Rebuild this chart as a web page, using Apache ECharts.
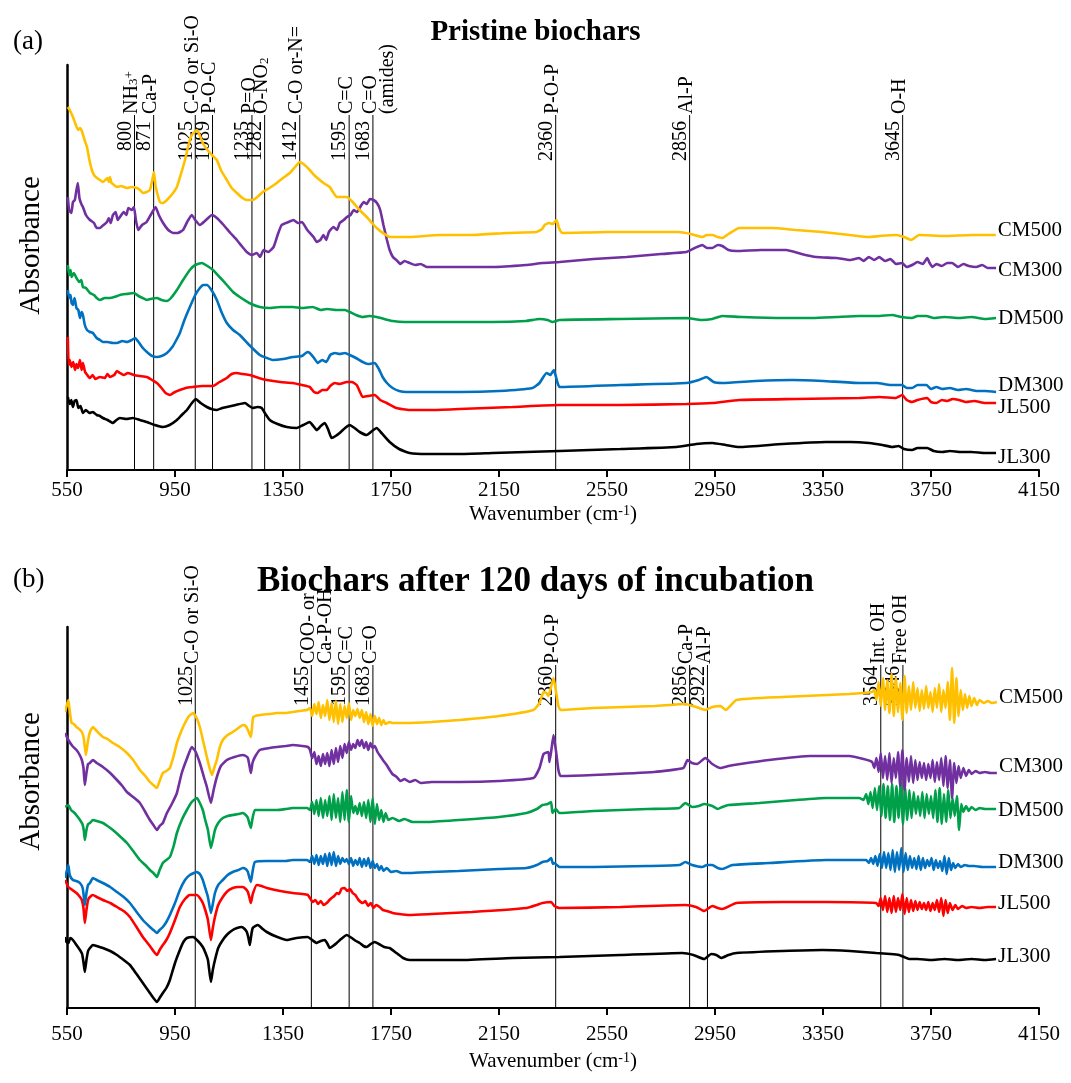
<!DOCTYPE html>
<html>
<head>
<meta charset="utf-8">
<title>FTIR spectra of biochars</title>
<script src="https://cdn.jsdelivr.net/npm/echarts@6/dist/echarts.min.js"></script>
<style>
  html, body { margin: 0; padding: 0; background: #ffffff; }
  #chart { width: 1071px; height: 1083px; }
</style>
</head>
<body>
<div id="chart"></div>
<script>
// ---------- shared settings ----------
const FONT = "'Liberation Serif', 'Times New Roman', serif";
const xMin = 550, xMax = 4150, xStep = 400;
const sampleNames = ['CM500', 'CM300', 'DM500', 'DM300', 'JL500', 'JL300'];
const sampleColors = ['#FFC000', '#7030A0', '#00A04A', '#0070C0', '#FF0000', '#000000'];

// ---------- (a) pristine biochars: [wavenumber, absorbance (offset)] ----------
const cm500A = [[553,3.63],[560,3.60],[572,3.53],[580,3.47],[591,3.40],[598,3.42],[605,3.39],[615,3.30],[624,3.23],[633,3.10],[642,3.00],[650,2.95],[661,2.92],[672,2.90],[683,2.88],[692,2.90],[700,2.92],[705,2.88],[709,2.93],[715,2.87],[720,2.86],[735,2.83],[750,2.84],[772,2.82],[790,2.83],[809,2.82],[820,2.80],[831,2.77],[845,2.78],[857,2.80],[866,2.90],[872,2.98],[878,2.84],[883,2.78],[894,2.68],[905,2.67],[920,2.70],[940,2.76],[957,2.83],[972,2.96],[987,3.10],[1000,3.25],[1012,3.35],[1031,3.40],[1040,3.36],[1053,3.27],[1070,3.20],[1087,3.15],[1105,3.10],[1120,3.00],[1142,2.90],[1160,2.82],[1179,2.77],[1200,2.72],[1216,2.70],[1238,2.70],[1255,2.73],[1275,2.78],[1300,2.82],[1327,2.87],[1350,2.92],[1375,2.97],[1395,3.03],[1412,3.08],[1430,3.05],[1449,3.00],[1465,2.95],[1486,2.90],[1505,2.86],[1523,2.83],[1535,2.78],[1549,2.73],[1570,2.73],[1586,2.73],[1608,2.68],[1630,2.61],[1660,2.53],[1680,2.47],[1697,2.42],[1720,2.37],[1745,2.33],[1780,2.33],[1819,2.33],[1930,2.35],[2050,2.35],[2178,2.37],[2289,2.38],[2310,2.41],[2319,2.45],[2335,2.47],[2349,2.46],[2363,2.50],[2372,2.42],[2385,2.37],[2548,2.38],[2700,2.38],[2816,2.38],[2860,2.36],[2903,2.33],[2920,2.35],[2940,2.35],[2960,2.33],[2977,2.32],[3000,2.36],[3040,2.42],[3162,2.42],[3250,2.40],[3347,2.38],[3450,2.35],[3521,2.33],[3560,2.34],[3621,2.35],[3650,2.33],[3677,2.30],[3706,2.35],[3800,2.34],[3900,2.35],[3990,2.35]];

const cm300A = [[553,2.73],[558,2.60],[566,2.57],[572,2.68],[579,2.70],[585,2.80],[590,2.87],[596,2.72],[603,2.66],[609,2.63],[620,2.55],[635,2.50],[650,2.47],[660,2.42],[672,2.42],[685,2.45],[698,2.48],[705,2.52],[712,2.47],[720,2.55],[730,2.58],[738,2.50],[746,2.53],[760,2.58],[770,2.55],[777,2.62],[790,2.60],[798,2.63],[805,2.50],[814,2.40],[828,2.45],[845,2.48],[860,2.55],[878,2.63],[890,2.55],[906,2.47],[925,2.40],[943,2.37],[960,2.37],[980,2.40],[995,2.48],[1012,2.55],[1025,2.50],[1042,2.45],[1065,2.50],[1087,2.55],[1105,2.52],[1130,2.45],[1155,2.37],[1179,2.30],[1200,2.23],[1216,2.18],[1235,2.15],[1253,2.17],[1265,2.13],[1278,2.20],[1295,2.18],[1315,2.23],[1330,2.35],[1345,2.45],[1370,2.48],[1389,2.50],[1405,2.47],[1420,2.48],[1440,2.40],[1463,2.33],[1475,2.28],[1488,2.30],[1500,2.35],[1510,2.30],[1520,2.38],[1537,2.43],[1550,2.40],[1560,2.47],[1575,2.50],[1587,2.53],[1600,2.55],[1612,2.60],[1624,2.58],[1636,2.63],[1649,2.68],[1660,2.66],[1672,2.71],[1685,2.70],[1698,2.67],[1710,2.60],[1722,2.45],[1735,2.30],[1745,2.20],[1757,2.13],[1770,2.10],[1785,2.06],[1800,2.09],[1819,2.07],[1840,2.05],[1860,2.06],[1882,2.03],[2000,2.03],[2126,2.03],[2250,2.05],[2311,2.07],[2374,2.08],[2500,2.11],[2622,2.13],[2750,2.16],[2844,2.18],[2875,2.22],[2903,2.25],[2920,2.22],[2940,2.22],[2960,2.25],[2977,2.24],[3000,2.20],[3029,2.19],[3120,2.20],[3214,2.20],[3270,2.16],[3325,2.13],[3400,2.12],[3450,2.10],[3484,2.12],[3500,2.09],[3520,2.13],[3540,2.10],[3558,2.13],[3580,2.09],[3600,2.11],[3620,2.06],[3643,2.07],[3660,2.03],[3680,2.05],[3700,2.08],[3720,2.06],[3736,2.12],[3745,2.07],[3755,2.03],[3770,2.06],[3790,2.04],[3810,2.07],[3828,2.07],[3850,2.03],[3870,2.06],[3890,2.04],[3917,2.03],[3940,2.05],[3960,2.02],[3991,2.02]];

const dm500A = [[553,2.05],[558,1.95],[563,2.00],[567,1.93],[575,1.97],[585,1.92],[595,1.88],[603,1.90],[609,1.83],[620,1.82],[635,1.77],[650,1.75],[660,1.72],[672,1.70],[690,1.72],[709,1.72],[725,1.73],[746,1.75],[770,1.76],[798,1.77],[815,1.74],[830,1.72],[846,1.70],[860,1.71],[883,1.72],[900,1.70],[920,1.69],[935,1.72],[957,1.80],[980,1.90],[1005,2.00],[1025,2.05],[1050,2.07],[1070,2.04],[1091,2.00],[1115,1.93],[1142,1.85],[1165,1.78],[1190,1.73],[1225,1.67],[1264,1.63],[1300,1.62],[1340,1.63],[1386,1.63],[1420,1.62],[1460,1.63],[1490,1.60],[1512,1.61],[1550,1.60],[1580,1.60],[1597,1.58],[1620,1.55],[1645,1.53],[1670,1.54],[1697,1.53],[1725,1.51],[1756,1.49],[1800,1.48],[1882,1.48],[2000,1.48],[2126,1.48],[2250,1.49],[2300,1.51],[2330,1.50],[2348,1.48],[2374,1.50],[2600,1.51],[2844,1.52],[2900,1.50],[2940,1.51],[2977,1.54],[3050,1.53],[3200,1.52],[3311,1.52],[3400,1.53],[3484,1.54],[3550,1.54],[3606,1.55],[3640,1.53],[3680,1.52],[3700,1.54],[3733,1.54],[3760,1.52],[3800,1.53],[3854,1.52],[3900,1.53],[3950,1.51],[3991,1.52]];

const dm300A = [[553,1.80],[558,1.72],[563,1.75],[567,1.67],[572,1.65],[578,1.72],[585,1.62],[592,1.60],[598,1.52],[604,1.58],[609,1.55],[616,1.45],[624,1.40],[635,1.38],[646,1.37],[660,1.32],[672,1.30],[683,1.28],[700,1.28],[720,1.27],[735,1.27],[755,1.29],[772,1.28],[790,1.30],[802,1.32],[815,1.28],[831,1.22],[850,1.17],[865,1.14],[883,1.13],[900,1.14],[920,1.17],[940,1.23],[955,1.30],[968,1.37],[985,1.50],[1005,1.63],[1025,1.75],[1042,1.82],[1055,1.85],[1068,1.85],[1085,1.80],[1105,1.70],[1122,1.58],[1142,1.47],[1165,1.40],[1190,1.35],[1225,1.25],[1264,1.15],[1290,1.12],[1312,1.10],[1350,1.11],[1386,1.13],[1420,1.14],[1440,1.18],[1449,1.17],[1465,1.12],[1479,1.07],[1495,1.10],[1510,1.08],[1525,1.15],[1542,1.17],[1560,1.16],[1580,1.17],[1597,1.15],[1620,1.12],[1645,1.08],[1665,1.06],[1690,1.07],[1705,1.01],[1719,0.93],[1735,0.87],[1756,0.82],[1780,0.79],[1808,0.78],[1900,0.78],[2004,0.78],[2150,0.79],[2274,0.82],[2300,0.87],[2326,0.97],[2340,0.95],[2353,1.00],[2362,0.92],[2367,0.87],[2374,0.83],[2600,0.85],[2844,0.87],[2890,0.90],[2918,0.93],[2945,0.88],[2977,0.87],[3100,0.89],[3236,0.90],[3350,0.89],[3484,0.87],[3550,0.87],[3600,0.85],[3643,0.85],[3660,0.82],[3680,0.82],[3700,0.85],[3733,0.85],[3750,0.81],[3770,0.83],[3792,0.81],[3820,0.82],[3850,0.80],[3880,0.81],[3920,0.79],[3950,0.79],[3991,0.78]];

const jl500A = [[553,1.33],[556,1.05],[560,1.10],[567,1.03],[573,1.08],[580,1.00],[585,1.06],[591,1.02],[598,1.10],[604,1.00],[609,1.07],[617,0.98],[625,0.95],[635,0.92],[645,0.95],[655,0.91],[672,0.93],[690,0.92],[700,0.96],[709,0.93],[725,0.95],[735,0.99],[746,0.97],[760,0.95],[775,0.97],[798,0.95],[820,0.94],[846,0.93],[865,0.90],[883,0.87],[900,0.82],[915,0.77],[931,0.75],[950,0.78],[968,0.80],[990,0.82],[1017,0.83],[1050,0.84],[1091,0.84],[1115,0.88],[1142,0.92],[1160,0.96],[1179,0.97],[1200,0.96],[1227,0.95],[1260,0.92],[1290,0.90],[1340,0.88],[1386,0.87],[1420,0.85],[1449,0.83],[1465,0.78],[1479,0.77],[1495,0.80],[1512,0.80],[1525,0.84],[1542,0.87],[1560,0.86],[1586,0.88],[1605,0.88],[1623,0.85],[1635,0.78],[1645,0.73],[1665,0.74],[1690,0.75],[1710,0.70],[1734,0.67],[1770,0.62],[1819,0.60],[1900,0.60],[2004,0.61],[2200,0.63],[2374,0.65],[2600,0.65],[2844,0.66],[2940,0.67],[3040,0.70],[3250,0.71],[3484,0.72],[3560,0.73],[3620,0.72],[3643,0.75],[3660,0.70],[3680,0.68],[3700,0.70],[3736,0.72],[3750,0.68],[3770,0.67],[3790,0.70],[3810,0.69],[3830,0.71],[3854,0.70],[3880,0.68],[3910,0.69],[3950,0.67],[3991,0.67]];

const jl300A = [[553,0.73],[560,0.66],[566,0.70],[572,0.63],[578,0.69],[585,0.70],[592,0.62],[600,0.64],[609,0.57],[620,0.60],[633,0.57],[646,0.58],[660,0.55],[672,0.54],[683,0.52],[700,0.50],[720,0.47],[733,0.50],[746,0.52],[770,0.51],[794,0.52],[820,0.50],[846,0.48],[875,0.45],[905,0.43],[930,0.45],[957,0.50],[975,0.55],[994,0.60],[1010,0.66],[1027,0.71],[1045,0.67],[1068,0.63],[1085,0.61],[1105,0.60],[1125,0.62],[1142,0.63],[1175,0.65],[1209,0.67],[1225,0.64],[1238,0.62],[1255,0.63],[1271,0.62],[1285,0.56],[1301,0.50],[1330,0.46],[1364,0.43],[1401,0.42],[1425,0.45],[1449,0.48],[1462,0.44],[1475,0.40],[1490,0.44],[1505,0.47],[1518,0.40],[1530,0.32],[1545,0.34],[1560,0.37],[1580,0.42],[1597,0.45],[1615,0.42],[1634,0.38],[1660,0.35],[1680,0.39],[1697,0.42],[1715,0.37],[1745,0.28],[1780,0.21],[1819,0.17],[1882,0.16],[2000,0.16],[2126,0.17],[2250,0.18],[2374,0.19],[2600,0.21],[2807,0.23],[2880,0.26],[2940,0.27],[2990,0.25],[3040,0.23],[3200,0.26],[3361,0.28],[3450,0.28],[3521,0.27],[3570,0.25],[3606,0.23],[3630,0.24],[3650,0.21],[3680,0.20],[3700,0.22],[3736,0.22],[3760,0.19],[3792,0.18],[3820,0.19],[3860,0.18],[3900,0.18],[3950,0.17],[3991,0.17]];

// ---------- (b) after 120 days of incubation ----------
const cm500B = [[543,2.96],[555,3.08],[561,2.95],[567,2.85],[575,2.84],[585,2.81],[595,2.79],[605,2.76],[612,2.70],[620,2.53],[627,2.66],[635,2.76],[646,2.81],[660,2.77],[683,2.71],[700,2.69],[720,2.65],[745,2.61],[772,2.55],[795,2.48],[820,2.38],[840,2.32],[857,2.26],[870,2.23],[883,2.20],[893,2.27],[905,2.35],[918,2.37],[931,2.40],[945,2.52],[957,2.65],[972,2.76],[987,2.85],[1002,2.92],[1017,2.95],[1030,2.90],[1042,2.81],[1055,2.66],[1068,2.51],[1078,2.40],[1087,2.33],[1095,2.40],[1105,2.48],[1115,2.60],[1127,2.68],[1145,2.73],[1164,2.76],[1185,2.80],[1201,2.83],[1212,2.82],[1220,2.78],[1226,2.74],[1231,2.71],[1235,2.80],[1240,2.91],[1264,2.93],[1300,2.94],[1327,2.95],[1360,2.95],[1386,2.96],[1410,2.97],[1438,2.98],[1450,3.00],[1458,2.92],[1466,3.04],[1474,2.94],[1482,3.06],[1490,2.90],[1498,3.03],[1506,2.92],[1514,3.08],[1522,2.88],[1530,3.05],[1538,2.86],[1546,3.07],[1554,2.84],[1562,3.04],[1570,2.86],[1578,3.02],[1586,2.90],[1594,3.05],[1602,2.88],[1610,2.98],[1618,2.92],[1626,2.99],[1634,2.90],[1642,2.98],[1650,2.86],[1658,2.96],[1666,2.84],[1674,2.94],[1682,2.82],[1690,2.92],[1698,2.84],[1706,2.90],[1714,2.83],[1722,2.88],[1730,2.84],[1745,2.86],[1756,2.85],[1800,2.85],[1900,2.86],[2004,2.88],[2150,2.92],[2278,2.98],[2300,3.05],[2315,3.16],[2325,3.15],[2333,3.12],[2340,3.18],[2352,3.30],[2362,3.15],[2370,3.02],[2378,2.98],[2500,3.00],[2725,3.02],[2840,3.04],[2880,3.01],[2914,2.98],[2940,3.01],[2970,3.02],[2990,2.98],[3029,3.08],[3200,3.11],[3447,3.14],[3532,3.16],[3540,3.18],[3548,3.08],[3556,3.26],[3564,3.02],[3572,3.30],[3580,2.98],[3588,3.28],[3596,2.95],[3604,3.34],[3612,2.92],[3620,3.30],[3628,2.96],[3636,3.25],[3644,2.88],[3652,3.32],[3660,2.95],[3668,3.22],[3676,2.98],[3684,3.26],[3692,3.00],[3700,3.20],[3708,2.97],[3716,3.18],[3724,2.99],[3732,3.22],[3740,3.00],[3748,3.16],[3756,2.96],[3764,3.20],[3772,3.00],[3780,3.24],[3788,2.96],[3796,3.18],[3804,3.00],[3812,3.26],[3820,2.88],[3828,3.40],[3836,2.85],[3844,3.30],[3852,2.92],[3860,3.18],[3868,2.98],[3876,3.14],[3884,3.00],[3892,3.12],[3900,3.02],[3910,3.10],[3920,3.03],[3930,3.08],[3945,3.05],[3960,3.07],[3975,3.05],[3994,3.06]];

const cm300B = [[543,2.75],[555,2.68],[570,2.62],[585,2.58],[595,2.54],[605,2.48],[611,2.40],[616,2.23],[622,2.35],[628,2.44],[635,2.45],[646,2.48],[660,2.45],[683,2.41],[710,2.35],[735,2.28],[755,2.22],[772,2.16],[795,2.11],[820,2.05],[840,1.96],[857,1.88],[870,1.83],[883,1.78],[893,1.82],[905,1.85],[920,1.95],[940,2.05],[957,2.15],[975,2.35],[995,2.50],[1012,2.61],[1025,2.57],[1042,2.45],[1058,2.30],[1068,2.21],[1083,2.05],[1093,2.18],[1105,2.31],[1120,2.42],[1142,2.48],[1170,2.51],[1201,2.53],[1212,2.52],[1220,2.50],[1226,2.42],[1231,2.35],[1237,2.45],[1246,2.51],[1264,2.58],[1300,2.60],[1327,2.61],[1360,2.62],[1386,2.63],[1420,2.62],[1442,2.61],[1450,2.58],[1458,2.50],[1466,2.56],[1474,2.44],[1482,2.52],[1490,2.42],[1498,2.54],[1506,2.44],[1514,2.55],[1522,2.42],[1530,2.58],[1538,2.44],[1546,2.60],[1554,2.46],[1562,2.62],[1570,2.50],[1578,2.64],[1586,2.55],[1594,2.66],[1602,2.58],[1610,2.64],[1618,2.60],[1626,2.68],[1634,2.62],[1642,2.68],[1650,2.60],[1658,2.66],[1666,2.58],[1674,2.65],[1682,2.60],[1690,2.62],[1700,2.56],[1710,2.52],[1720,2.48],[1734,2.43],[1745,2.38],[1755,2.34],[1771,2.31],[1785,2.27],[1800,2.29],[1819,2.26],[1840,2.28],[1860,2.25],[1900,2.26],[2004,2.26],[2150,2.27],[2278,2.30],[2300,2.40],[2315,2.54],[2333,2.56],[2337,2.46],[2345,2.60],[2352,2.73],[2362,2.55],[2370,2.38],[2378,2.32],[2500,2.33],[2725,2.36],[2833,2.40],[2848,2.48],[2865,2.45],[2884,2.44],[2914,2.50],[2940,2.44],[2970,2.40],[3000,2.42],[3044,2.44],[3150,2.48],[3303,2.52],[3447,2.52],[3500,2.49],[3532,2.46],[3540,2.40],[3548,2.50],[3556,2.36],[3564,2.55],[3572,2.30],[3580,2.52],[3588,2.28],[3596,2.55],[3604,2.25],[3612,2.50],[3620,2.30],[3628,2.56],[3636,2.22],[3644,2.58],[3652,2.18],[3660,2.50],[3668,2.26],[3676,2.52],[3684,2.25],[3692,2.48],[3700,2.28],[3708,2.46],[3716,2.30],[3724,2.45],[3732,2.28],[3740,2.44],[3748,2.30],[3756,2.48],[3764,2.26],[3772,2.46],[3780,2.28],[3788,2.50],[3796,2.22],[3804,2.52],[3812,2.20],[3820,2.48],[3828,2.10],[3836,2.45],[3844,2.25],[3852,2.42],[3860,2.30],[3870,2.40],[3880,2.32],[3890,2.38],[3900,2.34],[3915,2.37],[3930,2.35],[3950,2.36],[3970,2.35],[3994,2.35]];

const dm500B = [[543,2.01],[555,2.03],[565,1.98],[578,1.95],[590,1.91],[598,1.88],[607,1.84],[612,1.78],[616,1.68],[622,1.78],[628,1.84],[635,1.85],[646,1.88],[660,1.87],[683,1.85],[700,1.82],[720,1.78],[745,1.72],[772,1.65],[795,1.57],[820,1.48],[840,1.43],[857,1.38],[870,1.35],[883,1.31],[893,1.38],[905,1.45],[918,1.48],[931,1.51],[945,1.62],[957,1.75],[975,1.88],[994,1.98],[1012,2.06],[1031,2.10],[1042,2.05],[1053,1.98],[1062,1.88],[1072,1.78],[1083,1.60],[1090,1.68],[1098,1.78],[1110,1.85],[1127,1.90],[1145,1.92],[1164,1.93],[1185,1.94],[1201,1.95],[1212,1.93],[1220,1.90],[1226,1.84],[1231,1.80],[1236,1.88],[1246,1.98],[1290,1.98],[1327,1.98],[1360,1.99],[1386,2.00],[1420,2.00],[1440,2.00],[1450,1.98],[1458,2.06],[1466,1.94],[1474,2.08],[1482,1.92],[1490,2.10],[1498,1.90],[1506,2.08],[1514,1.92],[1522,2.12],[1530,1.88],[1538,2.14],[1546,1.90],[1554,2.10],[1562,1.86],[1570,2.16],[1578,1.88],[1586,2.18],[1594,1.86],[1602,2.12],[1610,1.95],[1618,2.02],[1626,1.94],[1634,2.05],[1642,1.92],[1650,2.06],[1658,1.90],[1666,2.08],[1674,1.86],[1682,2.10],[1690,1.84],[1698,2.04],[1706,1.88],[1714,1.98],[1722,1.86],[1730,1.95],[1740,1.88],[1756,1.90],[1780,1.87],[1800,1.89],[1830,1.86],[1882,1.86],[2000,1.88],[2150,1.91],[2252,1.95],[2290,1.99],[2311,2.03],[2330,2.04],[2343,2.06],[2348,1.95],[2360,1.99],[2374,1.95],[2500,1.97],[2700,1.99],[2818,2.00],[2840,2.05],[2866,2.01],[2890,2.02],[2910,2.04],[2940,2.02],[2960,1.99],[2977,2.01],[3000,2.03],[3114,2.05],[3250,2.08],[3361,2.10],[3420,2.10],[3484,2.10],[3500,2.08],[3510,2.14],[3518,2.04],[3526,2.16],[3534,2.00],[3542,2.20],[3550,1.98],[3558,2.22],[3566,1.92],[3574,2.24],[3582,1.90],[3590,2.22],[3598,1.88],[3606,2.24],[3614,1.86],[3622,2.22],[3630,1.90],[3638,2.26],[3646,1.84],[3654,2.20],[3662,1.88],[3670,2.18],[3678,1.90],[3686,2.16],[3694,1.94],[3702,2.12],[3710,1.92],[3718,2.16],[3726,1.90],[3734,2.14],[3742,1.94],[3750,2.12],[3758,1.90],[3766,2.18],[3774,1.86],[3782,2.20],[3790,1.84],[3798,2.14],[3806,1.86],[3814,2.18],[3822,1.90],[3830,2.10],[3838,1.92],[3846,2.12],[3854,1.78],[3862,2.04],[3870,1.96],[3880,2.02],[3890,1.97],[3900,2.01],[3915,1.98],[3930,2.00],[3950,1.99],[3970,1.99],[3991,1.99]];

const dm300B = [[543,1.30],[550,1.38],[555,1.43],[560,1.33],[572,1.28],[585,1.27],[598,1.25],[608,1.20],[612,1.12],[616,1.03],[622,1.15],[628,1.23],[635,1.25],[646,1.30],[660,1.28],[683,1.25],[710,1.21],[735,1.16],[760,1.11],[783,1.05],[805,0.97],[831,0.88],[857,0.81],[870,0.78],[883,0.75],[893,0.78],[905,0.81],[918,0.86],[931,0.93],[950,1.05],[968,1.18],[987,1.28],[1005,1.33],[1031,1.36],[1042,1.34],[1053,1.28],[1062,1.20],[1072,1.11],[1083,0.95],[1090,1.04],[1098,1.15],[1110,1.23],[1127,1.28],[1145,1.33],[1164,1.36],[1185,1.38],[1201,1.40],[1212,1.39],[1220,1.36],[1226,1.30],[1231,1.26],[1237,1.36],[1246,1.46],[1290,1.47],[1327,1.47],[1360,1.47],[1386,1.48],[1420,1.48],[1440,1.48],[1450,1.46],[1458,1.52],[1466,1.44],[1474,1.53],[1482,1.43],[1490,1.52],[1498,1.44],[1506,1.54],[1514,1.42],[1522,1.55],[1530,1.43],[1538,1.56],[1546,1.42],[1554,1.52],[1562,1.44],[1570,1.50],[1578,1.46],[1586,1.49],[1594,1.44],[1602,1.50],[1610,1.42],[1618,1.48],[1626,1.43],[1634,1.50],[1642,1.41],[1650,1.49],[1658,1.42],[1666,1.50],[1674,1.40],[1682,1.47],[1690,1.40],[1698,1.44],[1706,1.38],[1714,1.42],[1722,1.37],[1734,1.40],[1750,1.36],[1770,1.37],[1790,1.35],[1819,1.35],[1900,1.36],[2000,1.37],[2150,1.39],[2252,1.40],[2290,1.43],[2311,1.46],[2330,1.47],[2343,1.50],[2350,1.44],[2355,1.45],[2374,1.41],[2500,1.41],[2700,1.42],[2818,1.43],[2840,1.46],[2865,1.43],[2903,1.41],[2920,1.43],[2940,1.43],[2960,1.40],[2977,1.39],[3014,1.43],[3150,1.45],[3361,1.48],[3450,1.48],[3510,1.48],[3520,1.45],[3528,1.50],[3536,1.44],[3544,1.52],[3552,1.42],[3560,1.54],[3568,1.40],[3576,1.56],[3584,1.40],[3592,1.55],[3600,1.38],[3608,1.58],[3616,1.36],[3624,1.56],[3632,1.38],[3640,1.60],[3648,1.36],[3656,1.55],[3664,1.38],[3672,1.52],[3680,1.40],[3688,1.50],[3696,1.39],[3704,1.52],[3712,1.38],[3720,1.50],[3728,1.40],[3736,1.48],[3744,1.42],[3752,1.50],[3760,1.38],[3768,1.48],[3776,1.40],[3784,1.47],[3792,1.37],[3800,1.52],[3808,1.34],[3816,1.50],[3824,1.38],[3832,1.45],[3840,1.40],[3850,1.44],[3860,1.41],[3875,1.43],[3890,1.42],[3910,1.42],[3940,1.41],[3970,1.41],[3991,1.41]];

const jl500B = [[543,1.28],[555,1.21],[570,1.18],[585,1.15],[598,1.11],[605,1.08],[611,1.00],[616,0.85],[622,0.98],[628,1.08],[635,1.11],[646,1.13],[660,1.11],[683,1.08],[710,1.05],[735,1.01],[760,0.97],[783,0.91],[805,0.82],[831,0.71],[857,0.62],[870,0.57],[883,0.53],[893,0.58],[905,0.63],[918,0.68],[931,0.75],[950,0.88],[968,1.01],[987,1.09],[1005,1.13],[1031,1.13],[1042,1.10],[1053,1.05],[1062,0.98],[1072,0.88],[1083,0.68],[1090,0.80],[1098,0.91],[1110,1.03],[1127,1.11],[1145,1.17],[1164,1.20],[1185,1.21],[1201,1.21],[1212,1.19],[1220,1.16],[1226,1.10],[1231,1.05],[1238,1.14],[1253,1.23],[1270,1.22],[1290,1.20],[1340,1.17],[1386,1.15],[1420,1.14],[1442,1.13],[1450,1.10],[1460,1.06],[1470,1.08],[1480,1.04],[1490,1.07],[1500,1.03],[1512,1.05],[1522,1.08],[1530,1.10],[1540,1.12],[1549,1.15],[1558,1.14],[1566,1.19],[1578,1.20],[1588,1.17],[1598,1.19],[1608,1.15],[1618,1.13],[1630,1.08],[1645,1.05],[1655,1.07],[1665,1.02],[1675,1.05],[1685,1.00],[1695,1.03],[1708,1.01],[1720,0.98],[1735,0.97],[1756,0.95],[1780,0.94],[1819,0.93],[1900,0.94],[2050,0.96],[2252,1.00],[2290,1.03],[2311,1.05],[2343,1.06],[2355,1.02],[2374,1.00],[2600,1.01],[2840,1.03],[2880,1.01],[2910,0.97],[2940,1.02],[2960,1.00],[2977,0.99],[3029,1.05],[3200,1.06],[3361,1.06],[3547,1.05],[3556,1.02],[3564,1.10],[3572,0.98],[3580,1.12],[3588,0.96],[3596,1.10],[3604,0.95],[3612,1.12],[3620,0.96],[3628,1.10],[3636,0.98],[3644,1.14],[3652,0.94],[3660,1.10],[3668,0.96],[3676,1.08],[3684,0.97],[3692,1.07],[3700,0.98],[3708,1.06],[3716,0.99],[3724,1.05],[3732,0.98],[3740,1.06],[3748,0.97],[3756,1.05],[3764,0.98],[3772,1.08],[3780,0.96],[3788,1.10],[3796,0.92],[3804,1.08],[3812,0.95],[3820,1.05],[3830,0.98],[3840,1.03],[3850,0.99],[3865,1.02],[3880,1.00],[3900,1.01],[3930,1.00],[3960,1.01],[3991,1.01]];

const jl300B = [[543,0.71],[548,0.66],[555,0.65],[562,0.70],[572,0.68],[585,0.63],[598,0.58],[606,0.54],[611,0.46],[616,0.36],[622,0.48],[628,0.57],[635,0.60],[646,0.63],[660,0.62],[683,0.60],[710,0.57],[735,0.53],[760,0.48],[783,0.43],[805,0.35],[831,0.25],[857,0.15],[870,0.10],[883,0.06],[893,0.10],[905,0.15],[918,0.20],[931,0.28],[950,0.45],[968,0.58],[981,0.66],[994,0.70],[1017,0.71],[1035,0.67],[1053,0.61],[1063,0.55],[1072,0.48],[1083,0.26],[1090,0.38],[1098,0.48],[1110,0.60],[1127,0.68],[1145,0.74],[1164,0.78],[1180,0.80],[1197,0.81],[1208,0.79],[1216,0.76],[1222,0.70],[1227,0.63],[1232,0.72],[1238,0.80],[1257,0.83],[1275,0.79],[1290,0.76],[1320,0.72],[1364,0.68],[1400,0.70],[1442,0.71],[1458,0.68],[1475,0.65],[1490,0.67],[1505,0.68],[1515,0.64],[1523,0.60],[1535,0.62],[1549,0.65],[1565,0.69],[1586,0.73],[1605,0.70],[1620,0.67],[1634,0.65],[1648,0.62],[1660,0.61],[1675,0.64],[1690,0.66],[1705,0.64],[1725,0.61],[1745,0.60],[1770,0.55],[1795,0.50],[1819,0.48],[1900,0.48],[2004,0.48],[2200,0.50],[2374,0.51],[2600,0.53],[2829,0.55],[2870,0.53],[2910,0.49],[2936,0.54],[2955,0.53],[2973,0.50],[3000,0.53],[3029,0.55],[3200,0.57],[3347,0.58],[3450,0.57],[3547,0.55],[3600,0.54],[3632,0.53],[3650,0.51],[3669,0.49],[3700,0.49],[3750,0.48],[3800,0.49],[3850,0.48],[3900,0.49],[3950,0.48],[3991,0.49]];

// ---------- band assignments (vertical reference lines) ----------
const bandWnA = [800, 871, 1025, 1089, 1235, 1282, 1412, 1595, 1683, 2360, 2856, 3645];
const bandTextA = ['NH{sub|3}{sup|+}', 'Ca-P', 'C-O or Si-O', 'P-O-C', 'P=O', 'O-NO{sub|2}', 'C-O or-N=', 'C=C', 'C=O\n(amides)', 'P-O-P', 'Al-P', 'O-H'];
const bandWnB = [1025, 1455, 1595, 1683, 2360, 2856, 2922, 3564, 3646];
const bandTextB = ['C-O or Si-O', 'COO- or\nCa-P-OH', 'C=C', 'C=O', 'P-O-P', 'Ca-P', 'Al-P', 'Int. OH', 'Free OH'];

const seriesA = [cm500A, cm300A, dm500A, dm300A, jl500A, jl300A];
const seriesB = [cm500B, cm300B, dm500B, dm300B, jl500B, jl300B];

// vertical nudges of the sample names at the line ends (px)
const endLabelShiftA = [-5, 2, 0, -7, 4, 4];
const endLabelShiftB = [-5, -7, 1, -5, -4, -3];

// ---------- chart ----------
const chart = echarts.init(document.getElementById('chart'), null, { renderer: 'canvas' });

const BAND_FONT = 20;
const bandRich = {
  sub: { fontSize: 13, fontFamily: FONT, verticalAlign: 'bottom', lineHeight: 17 },
  sup: { fontSize: 13, fontFamily: FONT, verticalAlign: 'top', lineHeight: 17 }
};

function bandSeries(axisIndex, wns, texts, topValue, numberGap) {
  return {
    type: 'custom',
    xAxisIndex: axisIndex,
    yAxisIndex: axisIndex,
    silent: true,
    clip: false,
    z: 1,
    data: wns.map(w => [w, topValue]),
    renderItem: function (params, api) {
      const i = params.dataIndex;
      const wn = api.value(0);
      const top = api.coord([wn, api.value(1)]);
      const base = api.coord([wn, 0]);
      return {
        type: 'group',
        children: [
          {
            type: 'line',
            shape: { x1: top[0], y1: top[1], x2: base[0], y2: base[1] },
            style: { stroke: '#000000', lineWidth: 1 }
          },
          {
            type: 'text',
            x: top[0] + 1,
            y: top[1] + numberGap,
            rotation: Math.PI / 2,
            style: {
              text: String(wn), fontSize: BAND_FONT, fontFamily: FONT, fill: '#000000',
              align: 'right', verticalAlign: 'bottom'
            }
          },
          {
            type: 'text',
            x: top[0] - 11,
            y: top[1] - 1,
            rotation: Math.PI / 2,
            style: {
              text: texts[i], fontSize: BAND_FONT, fontFamily: FONT, fill: '#000000',
              lineHeight: 17, align: 'left', verticalAlign: 'top', rich: bandRich
            }
          }
        ]
      };
    }
  };
}

function spectrumSeries(data, idx, axisIndex, shift) {
  return {
    type: 'line',
    name: sampleNames[idx],
    xAxisIndex: axisIndex,
    yAxisIndex: axisIndex,
    data: data,
    symbol: 'none',
    showSymbol: false,
    smooth: 0.15,
    z: 2 + (5 - idx) * 0.01,
    lineStyle: { color: sampleColors[idx], width: 2.6 },
    itemStyle: { color: sampleColors[idx] },
    endLabel: {
      show: true, formatter: sampleNames[idx], fontFamily: FONT, fontSize: 21,
      color: '#000000', distance: 2, offset: [0, shift]
    }
  };
}

function xAxisFor(gridIndex, labelMargin, nameGap) {
  return {
    type: 'value', gridIndex: gridIndex, min: xMin, max: xMax, interval: xStep,
    name: 'Wavenumber (cm{sup|-1})', nameLocation: 'middle', nameGap: nameGap,
    nameTextStyle: {
      fontFamily: FONT, fontSize: 21, color: '#000000',
      rich: { sup: { fontFamily: FONT, fontSize: 14, verticalAlign: 'top', color: '#000000' } }
    },
    axisLine: { show: true, lineStyle: { color: '#000000', width: 2 } },
    axisTick: { show: true, inside: false, length: 7, lineStyle: { color: '#000000', width: 2 } },
    axisLabel: { fontFamily: FONT, fontSize: 21, color: '#000000', margin: labelMargin, formatter: v => String(v) },
    splitLine: { show: false }
  };
}

// the axis title sits a little above the middle of the axis; the left padding
// (text frame rotated by 90 degrees) lifts it on screen
function yAxisFor(gridIndex, maxValue, lift) {
  return {
    type: 'value', gridIndex: gridIndex, min: 0, max: maxValue,
    name: 'Absorbance', nameLocation: 'middle', nameGap: 21, nameRotate: 90,
    nameTextStyle: { fontFamily: FONT, fontSize: 29, color: '#000000', padding: [0, 0, 0, lift * 2] },
    axisLine: { show: true, lineStyle: { color: '#000000', width: 2.5 } },
    axisTick: { show: false },
    axisLabel: { show: false },
    splitLine: { show: false }
  };
}

const series = [];
seriesA.forEach((d, i) => series.push(spectrumSeries(d, i, 0, endLabelShiftA[i])));
seriesB.forEach((d, i) => series.push(spectrumSeries(d, i, 1, endLabelShiftB[i])));
series.push(bandSeries(0, bandWnA, bandTextA, 3.55, 6));
series.push(bandSeries(1, bandWnB, bandTextB, 3.43, 1));

chart.setOption({
  animation: false,
  backgroundColor: '#ffffff',
  title: [
    { text: '(a)', left: 8, top: 23, textStyle: { fontFamily: FONT, fontSize: 27, fontWeight: 'normal', color: '#000000' } },
    { text: 'Pristine biochars', left: 'center', top: 13, textStyle: { fontFamily: FONT, fontSize: 29, fontWeight: 'bold', color: '#000000' } },
    { text: '(b)', left: 8, top: 561, textStyle: { fontFamily: FONT, fontSize: 27, fontWeight: 'normal', color: '#000000' } },
    { text: 'Biochars after 120 days of incubation', left: 'center', top: 559, textStyle: { fontFamily: FONT, fontSize: 35, fontWeight: 'bold', color: '#000000' } }
  ],
  grid: [
    { left: 67, right: 32, top: 65, height: 405 },
    { left: 67, right: 32, top: 627, height: 381 }
  ],
  xAxis: [xAxisFor(0, 10, 34), xAxisFor(1, 16, 43)],
  yAxis: [yAxisFor(0, 4.05, 22), yAxisFor(1, 3.81, 36)],
  series: series
});
</script>
</body>
</html>
